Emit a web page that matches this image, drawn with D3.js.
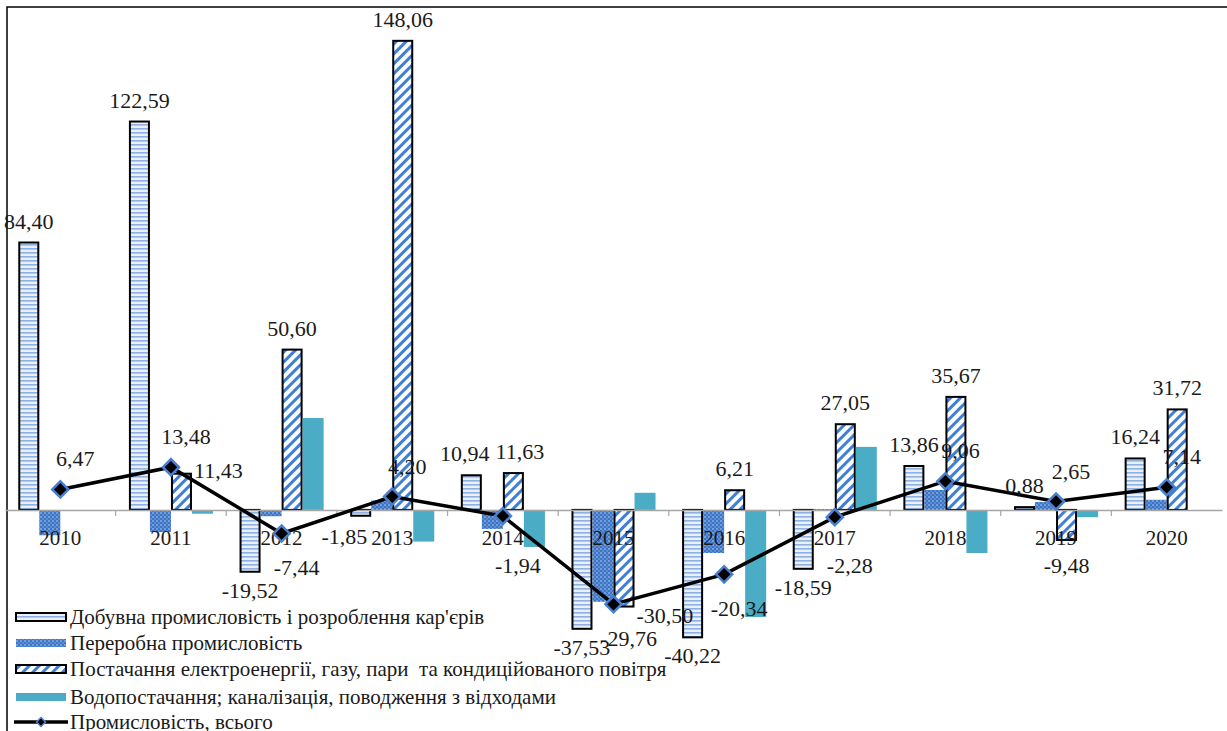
<!DOCTYPE html>
<html><head><meta charset="utf-8">
<script src="https://cdn.jsdelivr.net/npm/d3@7"></script>
<style>body{margin:0;background:#fff}svg{display:block}text{font-family:"Liberation Serif","Times New Roman",serif}</style>
</head><body><svg id="c" width="1227" height="731"></svg>
<script>
const years = ["2010","2011","2012","2013","2014","2015","2016","2017","2018","2019","2020"];
const seriesNames = [
  "Добувна промисловість і розроблення кар'єрів",
  "Переробна промисловість",
  "Постачання електроенергії, газу, пари  та кондиційованого повітря",
  "Водопостачання; каналізація, поводження з відходами"
];
const totalName = "Промисловість, всього";
const mining = [84.40, 122.59, -19.52, -1.85, 10.94, -37.53, -40.22, -18.59, 13.86, 0.88, 16.24];
const processing = [-8.0, -7.0, -2.0, 3.0, -6.0, -29.0, -13.6, 0.3, 6.3, 2.5, 3.2];
const energy = [null, 11.43, 50.60, 148.06, 11.63, -30.50, 6.21, 27.05, 35.67, -9.48, 31.72];
const water = [null, -1.2, 29.0, -10.0, -11.7, 5.4, -33.8, 19.9, -13.6, -2.3, null];
const total = [6.47, 13.48, -7.44, 4.20, -1.94, -29.76, -20.34, -2.28, 9.06, 2.65, 7.14];
const labelledSeries = [true, false, true, false];

const svg = d3.select("#c");
const defs = svg.append("defs");
const p1 = defs.append("pattern").attr("id","pMin").attr("patternUnits","userSpaceOnUse").attr("width",6).attr("height",4);
p1.append("rect").attr("width",6).attr("height",4).attr("fill","#e9f0fa");
p1.append("rect").attr("width",6).attr("height",1.6).attr("fill","#8fb1e0");
const p2 = defs.append("pattern").attr("id","pProc").attr("patternUnits","userSpaceOnUse").attr("width",4).attr("height",4);
p2.append("rect").attr("width",4).attr("height",4).attr("fill","#3d74c4");
p2.append("circle").attr("cx",1).attr("cy",1).attr("r",0.9).attr("fill","#8fb3e6");
p2.append("circle").attr("cx",3).attr("cy",3).attr("r",0.9).attr("fill","#6d9ad8");
const p3 = defs.append("pattern").attr("id","pEn").attr("patternUnits","userSpaceOnUse").attr("width",7).attr("height",7).attr("patternTransform","rotate(45)");
p3.append("rect").attr("width",7).attr("height",7).attr("fill","#ffffff");
p3.append("rect").attr("width",3).attr("height",7).attr("fill","#3f7fd6");

const fills = ["url(#pMin)","url(#pProc)","url(#pEn)","#4bacc6"];
const strokes = ["#000","none","#000","none"];
const data = [mining, processing, energy, water];

const x = d3.scaleBand().domain(years).range([5, 1222]).padding(0);
const x1 = d3.scaleBand().domain(d3.range(4)).range([x.bandwidth()*0.12, x.bandwidth()*0.88]).padding(0);
const y = d3.scaleLinear().domain([-60, 160]).range([700, 3]);

svg.append("path").attr("d","M7,731 V7 H1227").attr("fill","none").attr("stroke","#000").attr("stroke-width",1.5);

data.forEach((arr, s) => {
  svg.append("g").selectAll("rect").data(arr.map((v,i)=>({v,i})).filter(d=>d.v!=null)).join("rect")
    .attr("x", d => x(years[d.i]) + x1(s) + (strokes[s]!=="none"?1:0))
    .attr("width", x1.bandwidth() - (strokes[s]!=="none"?2:0))
    .attr("y", d => y(Math.max(0,d.v)))
    .attr("height", d => Math.abs(y(d.v)-y(0)))
    .attr("fill", fills[s])
    .attr("stroke", strokes[s])
    .attr("stroke-width", 2);
});

const axis = d3.axisBottom(x).tickSize(0).tickFormat("");
const ag = svg.append("g").attr("transform",`translate(0,${y(0)})`).call(axis);
ag.select(".domain").attr("stroke","#a6a6a6").attr("stroke-width",1.5);
svg.append("g").selectAll("line").data(years.slice(1)).join("line")
  .attr("x1", d=>x(d)).attr("x2", d=>x(d)).attr("y1", y(0)).attr("y2", y(0)+6)
  .attr("stroke","#a6a6a6").attr("stroke-width",1.2);
const catBase = y(0)+35;
const catLabels = svg.append("g").selectAll("text").data(years).join("text")
  .attr("x", d=>x(d)+x.bandwidth()/2).attr("y", catBase)
  .attr("text-anchor","middle").attr("font-size",21).attr("fill","#1a1a1a").text(d=>d);
const catBoxes = catLabels.nodes().map(n => n.getBBox());

const fmt = v => v.toFixed(2).replace(".", ",");
function overlapFrac(a, b) {
  const w = Math.min(a.x+a.width, b.x+b.width) - Math.max(a.x, b.x);
  const h = Math.min(a.y+a.height, b.y+b.height) - Math.max(a.y, b.y);
  if (w <= 0 || h <= 0) return 0;
  return (w*h) / Math.min(a.width*a.height, b.width*b.height);
}

const cx = i => x(years[i]) + x.bandwidth()/2;
svg.append("path").datum(total)
  .attr("d", d3.line().x((d,i)=>cx(i)).y(d=>y(d)))
  .attr("fill","none").attr("stroke","#000").attr("stroke-width",3.5);
svg.append("g").selectAll("path").data(total).join("path")
  .attr("d", d3.symbol(d3.symbolSquare, 130))
  .attr("transform",(d,i)=>`translate(${cx(i)},${y(d)}) rotate(45)`)
  .attr("fill","#000").attr("stroke","#4a7fd0").attr("stroke-width",2.5);

const lineLabels = svg.append("g").selectAll("text").data(total).join("text")
  .attr("x", (d,i) => cx(i) + 15)
  .attr("y", d => d >= 0 ? y(d) - 23 : Math.max(y(d) + 42, catBase + 28))
  .attr("text-anchor","middle").attr("font-size",22).attr("fill","#1a1a1a")
  .text(d => fmt(d));
const lineBoxes = lineLabels.nodes().map(n => n.getBBox());

const barLabelNodes = [];
data.forEach((arr, s) => {
  if (!labelledSeries[s]) return;
  svg.append("g").selectAll("text").data(arr.map((v,i)=>({v,i,s})).filter(d=>d.v!=null)).join("text")
    .attr("x", d => x(years[d.i]) + x1(s) + x1.bandwidth()/2)
    .attr("y", d => d.v >= 0 ? y(d.v) - 14 : y(d.v) + 26)
    .attr("text-anchor","middle").attr("font-size",22).attr("fill","#1a1a1a")
    .text(d => fmt(d.v))
    .each(function(d) {
      const el = d3.select(this);
      const bb = this.getBBox();
      const cb = catBoxes[d.i];
      const oc = overlapFrac(bb, cb);
      const base = +el.attr("y");
      if (oc > 0 && Math.abs(base - catBase) < 12) {
        // same row as the category label: put it to the left
        el.attr("text-anchor","end").attr("x", cb.x - 4).attr("y", catBase - 1);
      } else if (oc > 0) {
        el.attr("y", catBase + 28);
      } else if (overlapFrac(bb, lineBoxes[d.i]) > 0.25) {
        el.attr("text-anchor","start")
          .attr("x", x(years[d.i]) + x1(s) + x1.bandwidth() + 2)
          .attr("y", y(d.v) + (d.v >= 0 ? 4 : 16));
      }
      barLabelNodes.push(this);
    });
});
for (let a = 0; a < barLabelNodes.length; a++) for (let b = a+1; b < barLabelNodes.length; b++) {
  const na = barLabelNodes[a], nb = barLabelNodes[b];
  const da = d3.select(na).datum(), db = d3.select(nb).datum();
  if (da.i !== db.i) continue;
  const A = na.getBBox(), B = nb.getBBox();
  const w = Math.min(A.x+A.width, B.x+B.width) - Math.max(A.x, B.x);
  const h = Math.min(A.y+A.height, B.y+B.height) - Math.max(A.y, B.y);
  if (w > 0 && h > 0) {
    const [L, R] = A.x < B.x ? [na, nb] : [nb, na];
    const sh = w/2 + 3;
    d3.select(L).attr("x", +d3.select(L).attr("x") - sh);
    d3.select(R).attr("x", +d3.select(R).attr("x") + sh);
  }
}

const leg = svg.append("g");
const rowY = [617, 643, 669, 697, 722];
seriesNames.forEach((n, s) => {
  leg.append("rect").attr("x",16).attr("y",rowY[s]-4).attr("width",50).attr("height",8)
    .attr("fill",fills[s]).attr("stroke",strokes[s]).attr("stroke-width",2);
  leg.append("text").attr("x",70).attr("y",rowY[s]+7).attr("font-size",21).attr("fill","#1a1a1a")
    .style("white-space","pre").text(n);
});
leg.append("line").attr("x1",14).attr("x2",68).attr("y1",rowY[4]).attr("y2",rowY[4]).attr("stroke","#000").attr("stroke-width",3.5);
leg.append("path").attr("d", d3.symbol(d3.symbolSquare, 40)).attr("transform",`translate(41,${rowY[4]}) rotate(45)`).attr("fill","#000").attr("stroke","#4a7fd0").attr("stroke-width",1.5);
leg.append("text").attr("x",70).attr("y",rowY[4]+7).attr("font-size",21).attr("fill","#1a1a1a").text(totalName);
</script></body></html>
